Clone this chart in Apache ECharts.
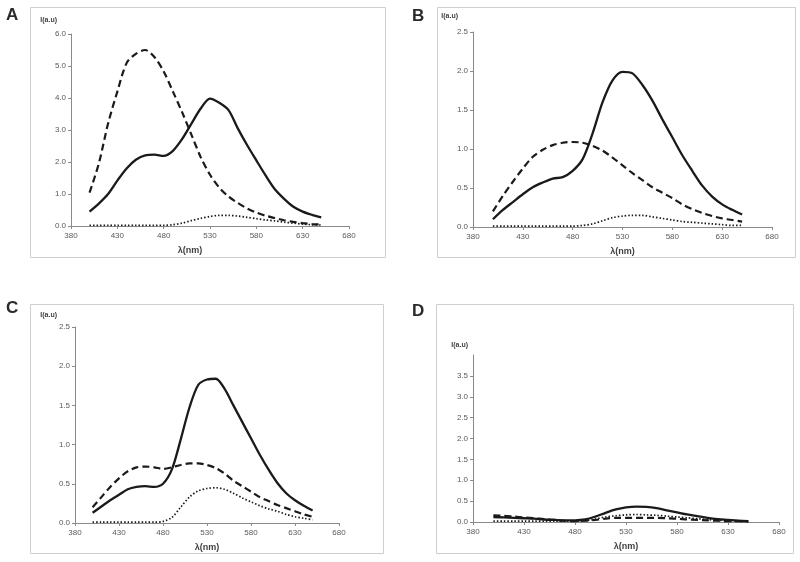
<!DOCTYPE html>
<html><head><meta charset="utf-8">
<script src="https://cdn.jsdelivr.net/npm/echarts/dist/echarts.min.js"></script>
<style>html,body{margin:0;padding:0;background:#fff}#c{width:800px;height:562px}</style>
</head><body><div id="c"></div>
<script>
// ---- data ----
const wavelengths = [400,410,420,430,440,450,460,470,480,490,500,510,520,530,540,550,560,570,580,590,600,610,620,630,640,650];
const xTicks = [380,430,480,530,580,630,680];
const panelLetters = ['A','B','C','D'];
const yMaxes = [6, 2.5, 2.5, 4];
const yIntervals = [1, 0.5, 0.5, 0.5];
const yAxisTitle = 'I(a.u)';
const xAxisTitle = 'λ(nm)';

const aSolid  = [0.45,0.70,1.00,1.42,1.80,2.07,2.21,2.23,2.19,2.35,2.72,3.20,3.67,3.98,3.85,3.62,3.05,2.53,2.05,1.58,1.15,0.85,0.60,0.45,0.35,0.27];
const aDashed = [1.04,1.95,3.20,4.20,5.09,5.38,5.50,5.28,4.83,4.20,3.55,2.85,2.15,1.60,1.20,0.92,0.72,0.55,0.42,0.32,0.25,0.18,0.13,0.09,0.06,0.05];
const aDotted = [0.02,0.02,0.02,0.02,0.02,0.02,0.02,0.02,0.02,0.04,0.09,0.17,0.24,0.30,0.33,0.33,0.31,0.27,0.23,0.19,0.16,0.12,0.09,0.06,0.04,0.03];

const bSolid  = [0.10,0.22,0.32,0.42,0.51,0.57,0.62,0.64,0.72,0.87,1.20,1.60,1.88,1.99,1.97,1.82,1.62,1.38,1.15,0.92,0.72,0.53,0.39,0.29,0.22,0.16];
const bDashed = [0.20,0.40,0.58,0.75,0.90,0.99,1.05,1.08,1.09,1.08,1.04,0.98,0.89,0.79,0.69,0.60,0.51,0.44,0.37,0.29,0.23,0.18,0.14,0.11,0.09,0.07];
const bDotted = [0.01,0.01,0.01,0.01,0.01,0.01,0.01,0.01,0.01,0.02,0.04,0.08,0.12,0.14,0.15,0.15,0.13,0.11,0.09,0.07,0.06,0.05,0.04,0.03,0.02,0.02];

const cSolid  = [0.13,0.21,0.29,0.36,0.43,0.46,0.47,0.46,0.50,0.68,1.06,1.47,1.76,1.83,1.84,1.71,1.50,1.29,1.08,0.87,0.68,0.51,0.38,0.29,0.22,0.16];
const cDashed = [0.20,0.33,0.46,0.57,0.66,0.71,0.72,0.71,0.69,0.71,0.74,0.76,0.76,0.74,0.70,0.63,0.54,0.47,0.40,0.33,0.28,0.23,0.19,0.15,0.11,0.08];
const cDotted = [0.01,0.01,0.01,0.01,0.01,0.01,0.01,0.01,0.02,0.07,0.20,0.33,0.41,0.44,0.45,0.43,0.38,0.32,0.27,0.22,0.18,0.15,0.11,0.08,0.06,0.04];

const dSolid  = [0.12,0.11,0.10,0.09,0.08,0.06,0.05,0.04,0.04,0.06,0.13,0.22,0.30,0.35,0.37,0.36,0.33,0.28,0.23,0.18,0.14,0.10,0.07,0.05,0.03,0.02];
const dDashed = [0.16,0.15,0.13,0.11,0.09,0.07,0.05,0.03,0.02,0.03,0.05,0.08,0.10,0.10,0.10,0.10,0.10,0.09,0.08,0.06,0.05,0.04,0.03,0.02,0.02,0.01];
const dDotted = [0.02,0.02,0.02,0.02,0.02,0.02,0.02,0.02,0.02,0.03,0.07,0.12,0.15,0.17,0.18,0.17,0.16,0.14,0.12,0.10,0.08,0.06,0.04,0.03,0.02,0.01];

const panelSeries = [[aSolid,aDashed,aDotted],[bSolid,bDashed,bDotted],[cSolid,cDashed,cDotted],[dSolid,dDashed,dDotted]];

// ---- layout ----
const grids = [
  {left:71, right:451, top:34, bottom:336},
  {left:473, right:28, top:32, bottom:335},
  {left:75, right:461, top:327, bottom:39},
  {left:473, right:21, top:355, bottom:40}
];
const frames = [
  {x:30, y:7, w:355, h:250},
  {x:437, y:7, w:358, h:250},
  {x:30, y:304, w:353, h:249},
  {x:436, y:304, w:357, h:249}
];
const letterPos = [{x:6,y:7},{x:412,y:8},{x:6,y:300},{x:412,y:303}];
const yNamePad = [14, 15, 18, 5];
const yNameGap = [10, 12, 8, 6];
const xNamePad = [[0,40,0,0],[0,0,0,0],[0,0,0,0],[0,0,0,0]];

const font = 'Liberation Sans, Arial, sans-serif';
const axisColor = '#8a8a8a';
const labelColor = '#595959';
const lineColor = '#1a1a1a';
const styles = [
  {type:'solid', width:2.3},
  {type:[7,4], width:2.2},
  {type:[1.5,2], width:1.7}
];

const option = {
  animation:false,
  backgroundColor:'#fff',
  title: panelLetters.map((t,i)=>({text:t, left:letterPos[i].x, top:letterPos[i].y, padding:0,
    textStyle:{fontFamily:font, fontWeight:'bold', fontSize:17, color:'#2a2a2a'}})),
  grid: grids.map(g=>Object.assign({containLabel:false}, g)),
  graphic: frames.map(f=>({type:'rect', shape:{x:f.x+0.5, y:f.y+0.5, width:f.w, height:f.h}, silent:true, z:-1,
    style:{fill:'none', stroke:'#cfcfcf', lineWidth:1}})),
  xAxis: grids.map((g,i)=>({
    type:'value', gridIndex:i, min:xTicks[0], max:xTicks[xTicks.length-1], interval:50,
    name:xAxisTitle, nameLocation:'middle', nameGap:20,
    nameTextStyle:{fontFamily:font, fontWeight:'bold', fontSize:9, color:'#404040', padding:xNamePad[i]},
    axisLine:{lineStyle:{color:axisColor, width:1}},
    axisTick:{show:true, length:3, lineStyle:{color:axisColor}},
    axisLabel:{fontFamily:font, fontSize:8, color:labelColor, margin:6},
    splitLine:{show:false}
  })),
  yAxis: grids.map((g,i)=>({
    type:'value', gridIndex:i, min:0, max:yMaxes[i], interval:yIntervals[i],
    name:yAxisTitle, nameLocation:'end', nameGap:yNameGap[i],
    nameTextStyle:{fontFamily:font, fontWeight:'bold', fontSize:7, color:'#404040', align:'right', padding:[0,yNamePad[i],0,0]},
    axisLine:{show:true, lineStyle:{color:axisColor, width:1}},
    axisTick:{show:true, length:3, lineStyle:{color:axisColor}},
    axisLabel:{fontFamily:font, fontSize:8, color:labelColor, margin:5, showMaxLabel: i!==3,
      formatter:v=>v.toFixed(1)},
    splitLine:{show:false}
  })),
  series: []
};
panelSeries.forEach((arrs,i)=>{
  arrs.forEach((vals,k)=>{
    option.series.push({
      type:'line', xAxisIndex:i, yAxisIndex:i, smooth:0.3, symbol:'none',
      lineStyle:{color:lineColor, width:styles[k].width, type:styles[k].type},
      data: wavelengths.map((w,j)=>[w, vals[j]])
    });
  });
});
const chart = echarts.init(document.getElementById('c'), null, {renderer:'canvas'});
chart.setOption(option);
</script></body></html>
